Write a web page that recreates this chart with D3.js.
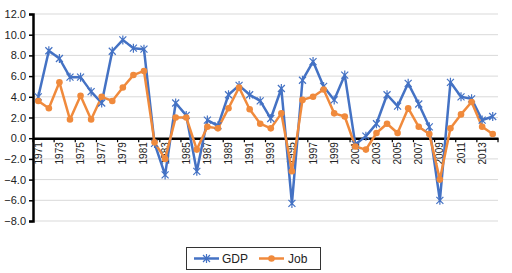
<!DOCTYPE html>
<html>
<head>
<meta charset="utf-8">
<script src="https://cdn.jsdelivr.net/npm/d3@7"></script>
<style>
  body { margin: 0; background: #fff; }
  svg { font-family: "Liberation Sans", Arial, sans-serif; }
</style>
</head>
<body>
<svg id="chart" width="512" height="273"></svg>
<script>
let years = d3.range(1971, 2015).map(String);
let gdp = [4.0, 8.45, 7.7, 5.9, 5.9, 4.5, 3.4, 8.4, 9.5, 8.7, 8.6,
           -0.5, -3.55, 3.4, 2.2, -3.2, 1.75, 1.2, 4.2, 5.1, 4.2,
           3.6, 1.9, 4.8, -6.3, 5.6, 7.4, 5.0, 3.7, 6.1, -0.6,
           0.2, 1.4, 4.2, 3.1, 5.3, 3.3, 1.1, -6.0, 5.4, 4.0,
           3.8, 1.75, 2.1];
let job = [3.6, 2.9, 5.4, 1.8, 4.1, 1.8, 4.0, 3.6, 4.9, 6.1, 6.5,
           -0.4, -2.0, 2.0, 2.0, -1.1, 1.1, 0.95, 2.9, 4.9, 2.8,
           1.4, 0.95, 2.4, -3.2, 3.7, 4.0, 4.7, 2.4, 2.1, -0.8,
           -1.1, 0.5, 1.4, 0.5, 2.9, 1.1, 0.4, -4.0, 0.95, 2.3,
           3.5, 1.1, 0.4];
let yTicks = [-8, -6, -4, -2, 0, 2, 4, 6, 8, 10, 12];
let seriesNames = ["GDP", "Job"];

let LEFT = 33, RIGHT = 498, TOP = 14, BOTTOM = 221;
let BLUE = "#4472c4", ORANGE = "#f08a3c";

let svg = d3.select("#chart");

let xScale = d3.scaleBand().domain(years).range([LEFT, RIGHT]).padding(0);
let yScale = d3.scaleLinear().domain([-8, 12]).range([BOTTOM, TOP]);
let cx = d => xScale(d) + xScale.bandwidth() / 2;

// gridlines
svg.append("g")
  .selectAll("line")
  .data(yTicks.filter(t => t !== 0))
  .join("line")
  .attr("x1", LEFT).attr("x2", RIGHT)
  .attr("y1", d => yScale(d)).attr("y2", d => yScale(d))
  .attr("stroke", "#d9d9d9").attr("stroke-width", 1);

// y axis
let yAxis = svg.append("g")
  .attr("transform", `translate(${LEFT},0)`)
  .call(d3.axisLeft(yScale).tickValues(yTicks).tickSize(4).tickPadding(3)
    .tickFormat(d => d3.format(".1f")(d).replace("-", "\u2013")));
yAxis.select(".domain").attr("stroke", "#000").attr("stroke-width", 2.5);
yAxis.selectAll(".tick line").attr("stroke", "#000").attr("stroke-width", 1.5);
yAxis.selectAll("text").attr("font-size", 11).attr("fill", "#222");

// x axis on zero line
let xAxis = svg.append("g")
  .attr("transform", `translate(0,${yScale(0)})`)
  .call(d3.axisBottom(xScale).tickSize(0).tickFormat(""));
xAxis.select(".domain").attr("stroke", "#000").attr("stroke-width", 2.5);

xAxis.selectAll(".tickmark")
  .data(years.filter((d, i) => i % 2 === 0).concat(["end"]))
  .join("line")
  .attr("class", "tickmark")
  .attr("x1", d => d === "end" ? RIGHT : xScale(d))
  .attr("x2", d => d === "end" ? RIGHT : xScale(d))
  .attr("y1", 0).attr("y2", 4)
  .attr("stroke", "#000").attr("stroke-width", 1.2);

svg.append("g")
  .selectAll("text")
  .data(years.filter((d, i) => i % 2 === 0))
  .join("text")
  .attr("transform", d => `translate(${cx(d)},${yScale(0) + 4}) rotate(-90)`)
  .attr("dy", "0.35em")
  .attr("text-anchor", "end")
  .attr("font-size", 10)
  .attr("fill", "#222")
  .text(d => d);

// lines
let line = d3.line().x((d, i) => cx(years[i])).y(d => yScale(d));

svg.append("path").datum(gdp)
  .attr("d", line).attr("fill", "none")
  .attr("stroke", BLUE).attr("stroke-width", 2.5).attr("stroke-linejoin", "round");

svg.append("path").datum(job)
  .attr("d", line).attr("fill", "none")
  .attr("stroke", ORANGE).attr("stroke-width", 2.5).attr("stroke-linejoin", "round");

// markers
function star(g, x, y, s) {
  g.append("path")
    .attr("d", `M${x - s},${y - s}L${x + s},${y + s}M${x - s},${y + s}L${x + s},${y - s}M${x},${y - s - 1}L${x},${y + s + 1}`)
    .attr("stroke", BLUE).attr("stroke-width", 1.2).attr("fill", "none");
}
let gm = svg.append("g");
gdp.forEach((v, i) => star(gm, cx(years[i]), yScale(v), 3.5));

svg.append("g")
  .selectAll("circle")
  .data(job)
  .join("circle")
  .attr("cx", (d, i) => cx(years[i]))
  .attr("cy", d => yScale(d))
  .attr("r", 3.3)
  .attr("fill", ORANGE);

// legend
let lg = svg.append("g");
lg.append("rect").attr("x", 186.5).attr("y", 247.5).attr("width", 134).attr("height", 22)
  .attr("fill", "#fff").attr("stroke", "#333").attr("stroke-width", 1);
lg.append("line").attr("x1", 194).attr("x2", 219).attr("y1", 258.5).attr("y2", 258.5)
  .attr("stroke", BLUE).attr("stroke-width", 2.5);
star(lg, 206.5, 258.5, 3.5);
lg.append("text").attr("x", 222).attr("y", 262.5).attr("font-size", 12).attr("fill", "#222").text(seriesNames[0]);
lg.append("line").attr("x1", 259).attr("x2", 284).attr("y1", 258.5).attr("y2", 258.5)
  .attr("stroke", ORANGE).attr("stroke-width", 2.5);
lg.append("circle").attr("cx", 271.5).attr("cy", 258.5).attr("r", 3.3).attr("fill", ORANGE);
lg.append("text").attr("x", 288).attr("y", 262.5).attr("font-size", 12).attr("fill", "#222").text(seriesNames[1]);
</script>
</body>
</html>
